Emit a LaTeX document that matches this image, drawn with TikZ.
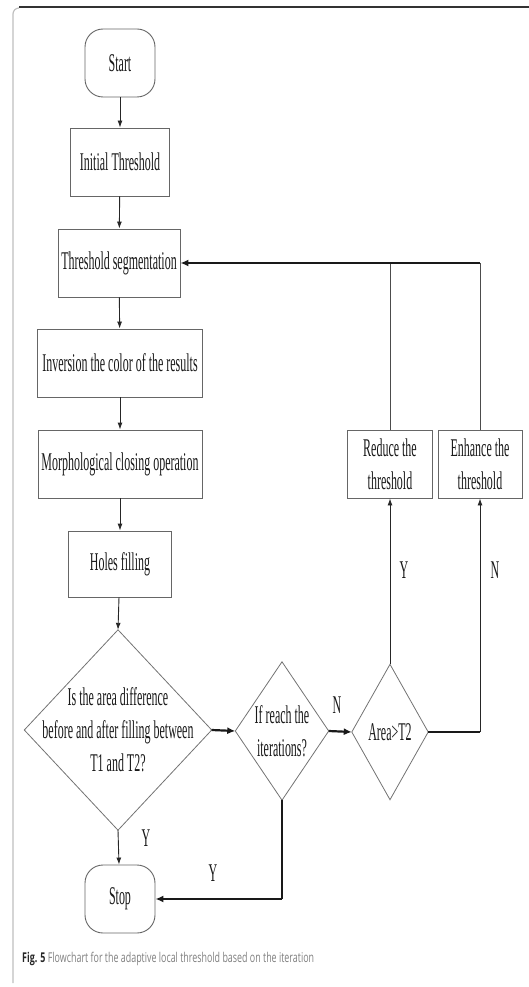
\documentclass[tikz,border=0pt]{standalone}
\usepackage{fontspec}
\setmainfont{Liberation Serif}[FakeStretch=0.47]
\newfontfamily\capfont{Open Sans}[FakeStretch=0.66]
\usetikzlibrary{arrows.meta}
\begin{document}
\begin{tikzpicture}[x=1pt,y=-1pt,
  every node/.style={font=\fontsize{25.5}{33}\selectfont, text=black!90, inner sep=0pt, align=center},
  procbox/.style={draw=black!60, line width=0.9pt, minimum height=68pt},
  termbox/.style={draw=black!60, line width=0.9pt, rounded corners=18pt, minimum width=70pt, minimum height=68pt},
  diabox/.style={draw=none},
  thin/.style={line width=0.9pt, draw=black!85, -{Latex[length=7pt,width=5pt]}},
  thickarr/.style={line width=2.2pt, draw=black!90, -{Latex[length=8pt,width=7pt]}},
  thickln/.style={line width=2.2pt, draw=black!90},
  thinln/.style={line width=0.9pt, draw=black!70},
  dia/.style={draw=black!55, line width=0.8pt},
  lab/.style={font=\fontsize{25.5}{28}\selectfont}
]
\useasboundingbox (0,0) rectangle (529,987);
% frame
\draw[black!25, line width=1.2pt] (13,983) -- (13,14) arc[start angle=180, end angle=90, radius=6pt];
\draw[black!80, line width=2pt] (19,7.5) -- (529,7.5);

% nodes
\node[termbox] (start) at (120,63) {Start};
\node[procbox, minimum width=99pt] (init) at (120,162) {Initial Threshold};
\node[procbox, minimum width=122pt] (seg) at (119,263) {Threshold segmentation};
\node[procbox, minimum width=165pt] (inv) at (120,363) {Inversion the color of the results};
\node[procbox, minimum width=164pt] (morph) at (120,464) {Morphological closing operation};
\node[procbox, minimum width=103pt, minimum height=66pt] (holes) at (120,564) {Holes filling};

\node[diabox, minimum width=187pt, minimum height=200pt] (d1) at (118,730) {Is the area difference\\before and after filling between\\T1 and T2?};
\draw[dia] (d1.north) -- (d1.east) -- (d1.south) -- (d1.west) -- cycle;
\node[diabox, minimum width=93pt, minimum height=138pt] (d2) at (282,731) {If reach the\\iterations?};
\draw[dia] (d2.north) -- (d2.east) -- (d2.south) -- (d2.west) -- cycle;
\node[diabox, minimum width=76pt, minimum height=135pt] (d3) at (390,732) {Area>T2};
\draw[dia] (d3.north) -- (d3.east) -- (d3.south) -- (d3.west) -- cycle;

\node[procbox, minimum width=85pt] (red) at (390,464) {Reduce the\\threshold};
\node[procbox, minimum width=84pt] (enh) at (480,464) {Enhance the\\threshold};

\node[termbox] (stop) at (120,899) {Stop};

% connectors
\draw[thin] (start) -- (init);
\draw[thin] (init) -- (seg);
\draw[thin] (seg) -- (inv);
\draw[thin] (inv) -- (morph);
\draw[thin] (morph) -- (holes);
\draw[thin] (holes) -- (d1.north);
\draw[thin] (d1.south) -- (stop);
\draw[thickarr] (d1.east) -- (d2.west);
\draw[thickarr] (d2.east) -- (d3.west);
\draw[thin] (d3.north) -- (red);
\coordinate (c1) at (enh.south |- d3.east);
\draw[thickln] (d3.east) -- (c1);
\draw[thin] (c1) -- (enh.south);
\coordinate (c2) at (enh.north |- seg.east);
\draw[thinln] (red.north) -- (red.north |- seg.east);
\draw[thinln] (enh.north) -- (c2);
\draw[thickarr] (c2) -- (seg.east);
\coordinate (c3) at (d2.south |- stop.east);
\draw[thickln] (d2.south) -- (c3);
\draw[thickarr] (c3) -- (stop.east);

% labels
\node[lab] (ln1) at (337,705) {N};
\node[lab] (ly1) at (404,570) {Y};
\node[lab] (ln2) at (495,570) {N};
\node[lab] (ly2) at (146,838) {Y};
\node[lab] (ly3) at (213,873) {Y};

% caption
\node[anchor=base west, font=\capfont\fontsize{13.5}{16}\selectfont, text=black!50] (cap) at (22,962)
  {{\bfseries\color{black!85}Fig. 5} Flowchart for the adaptive local threshold based on the iteration};
\end{tikzpicture}
\end{document}
